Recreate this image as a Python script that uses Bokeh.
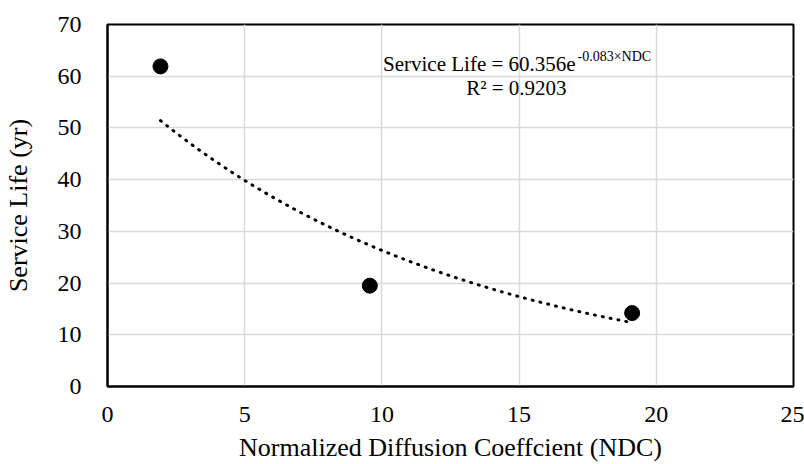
import numpy as np
from bokeh.plotting import figure
from bokeh.models import Range1d, SingleIntervalTicker, Label, ColumnDataSource
from bokeh.embed import file_html
from bokeh.resources import INLINE

# Data
ndc = [1.93, 9.56, 19.12]
service_life = [61.9, 19.5, 14.2]

# Exponential trendline shown on the chart: Service Life = 60.356 e^(-0.083 x NDC)
trend_a = 60.356
trend_b = -0.083
r_squared = "0.9203"

x_ticks_interval = 5
y_ticks_interval = 10

FONT = "'Liberation Serif', 'Times New Roman', serif"

p = figure(width=804, height=464, output_backend="svg", toolbar_location=None,
           x_range=Range1d(0, 25), y_range=Range1d(0, 70),
           min_border_left=107, min_border_right=11, min_border_top=24, min_border_bottom=78)

p.background_fill_color = "white"
p.border_fill_color = "white"
p.outline_line_color = "black"
p.outline_line_width = 2

p.xaxis.ticker = SingleIntervalTicker(interval=x_ticks_interval)
p.yaxis.ticker = SingleIntervalTicker(interval=y_ticks_interval)

for ax in (p.xaxis[0], p.yaxis[0]):
    ax.axis_line_color = "black"
    ax.axis_line_width = 2
    ax.major_tick_line_color = None
    ax.minor_tick_line_color = None
    ax.major_label_text_font = FONT
    ax.major_label_text_font_size = "24px"
    ax.major_label_text_color = "black"
    ax.axis_label_text_font = FONT
    ax.axis_label_text_font_size = "26px"
    ax.axis_label_text_font_style = "normal"
    ax.axis_label_text_color = "black"

p.xaxis.axis_label = "Normalized Diffusion Coeffcient (NDC)"
p.yaxis.axis_label = "Service Life (yr)"
p.xaxis.major_label_standoff = 14
p.xaxis.axis_label_standoff = 8
p.yaxis.major_label_standoff = 20
p.yaxis.axis_label_standoff = 22

p.xgrid.grid_line_color = "#d9d9d9"
p.ygrid.grid_line_color = "#d9d9d9"
p.xgrid.grid_line_width = 1.5
p.ygrid.grid_line_width = 1.5

# Trendline from the displayed equation over the data's x extent
tx = np.linspace(min(ndc), max(ndc), 200)
ty = trend_a * np.exp(trend_b * tx)
p.line(tx, ty, line_color="black", line_width=3, line_dash="1 7", line_cap="round")

src = ColumnDataSource(dict(x=ndc, y=service_life))
p.scatter("x", "y", source=src, size=15, color="black")

eq_main = Label(x=17.06, y=62.28, text="Service Life = %.3fe" % trend_a,
                text_font=FONT, text_font_size="21px", text_color="black",
                text_align="right", text_baseline="alphabetic")
eq_sup = Label(x=17.13, y=63.83, text="%.3f×NDC" % trend_b,
               text_font=FONT, text_font_size="14px", text_color="black",
               text_align="left", text_baseline="alphabetic")
eq_r2 = Label(x=14.9, y=57.63, text="R² = " + r_squared,
              text_font=FONT, text_font_size="21px", text_color="black",
              text_align="center", text_baseline="alphabetic")
p.add_layout(eq_main)
p.add_layout(eq_sup)
p.add_layout(eq_r2)

open("out.html", "w").write(file_html(p, INLINE))
